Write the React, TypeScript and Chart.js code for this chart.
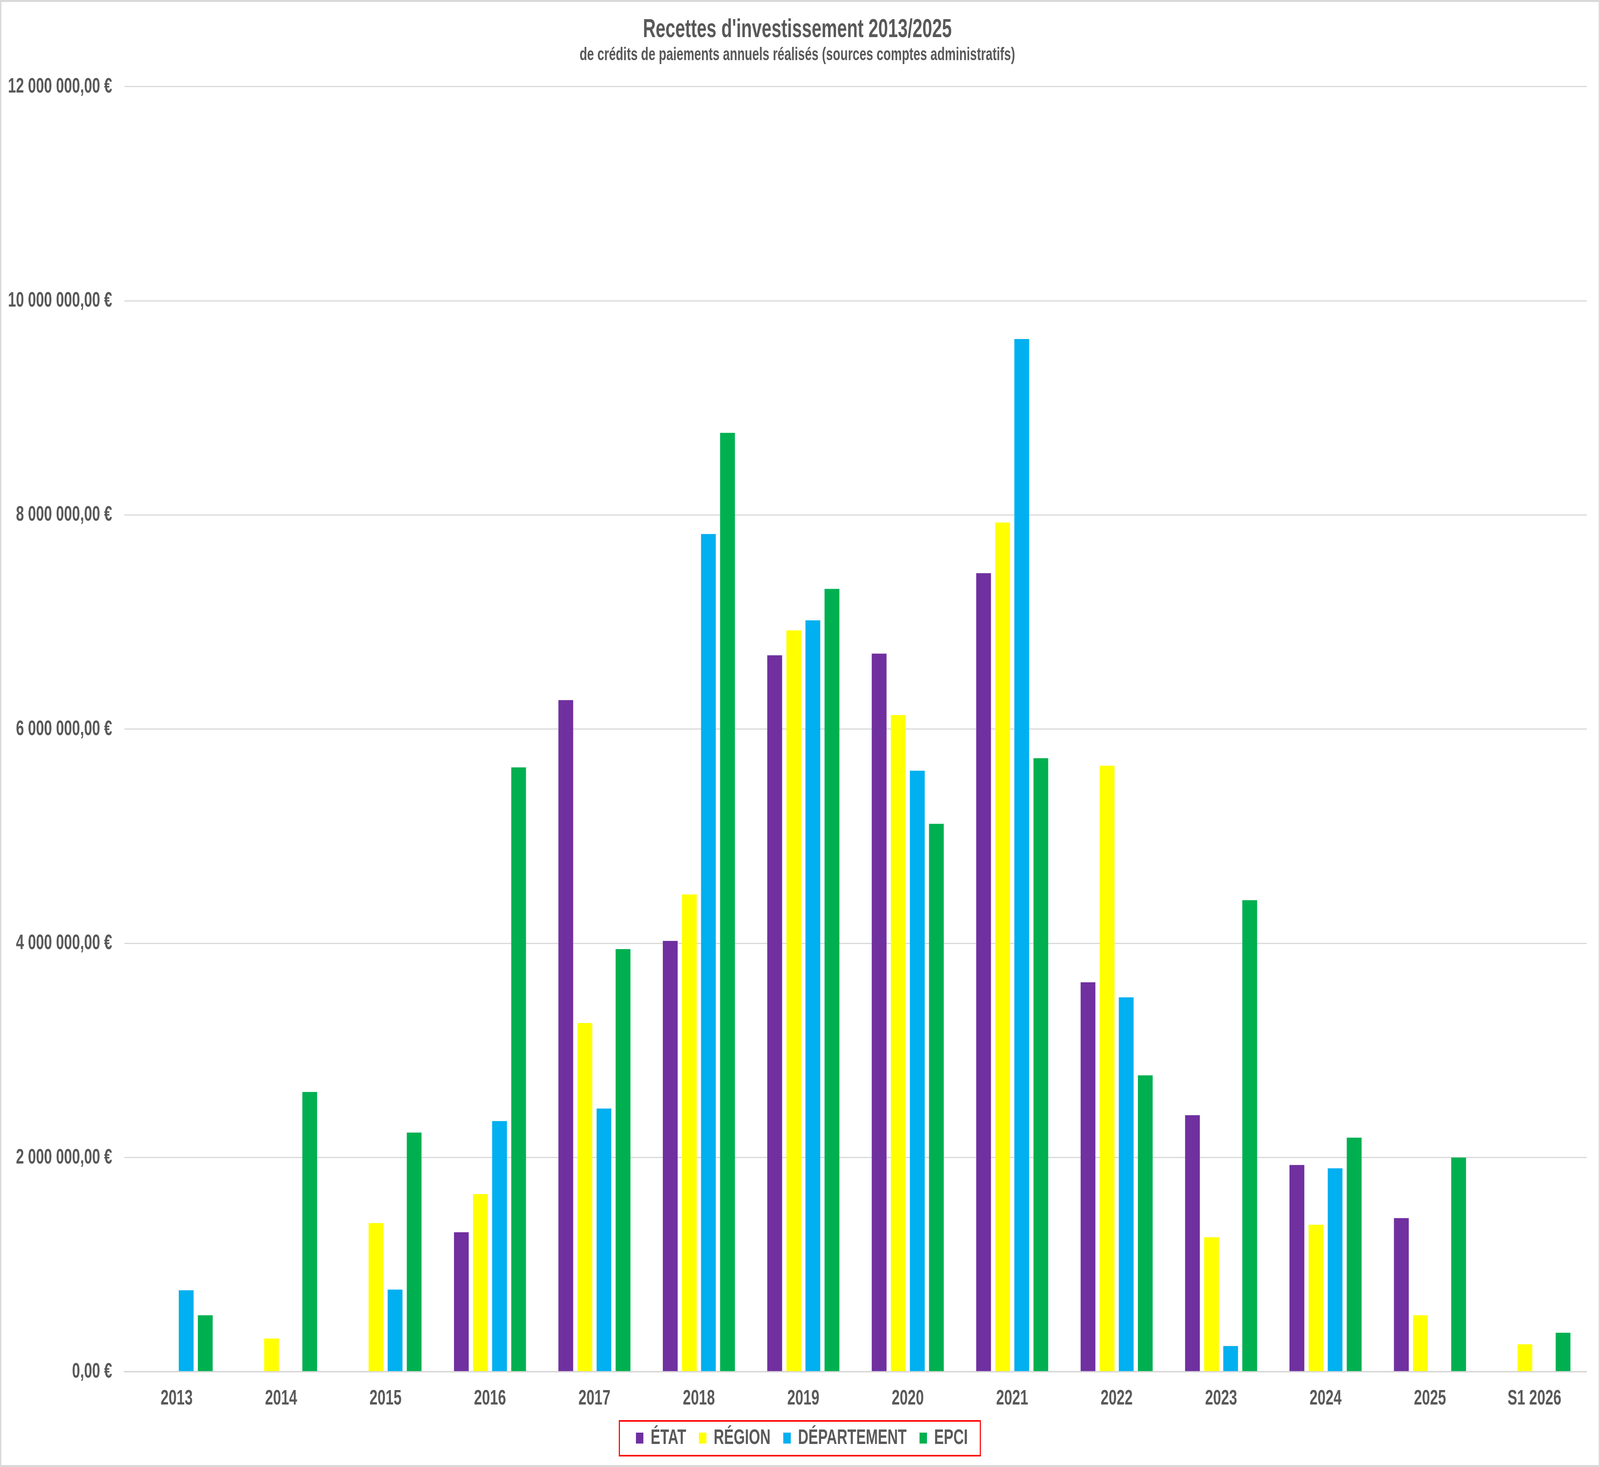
import React, { useEffect, useRef } from "react";
import { Chart, registerables } from "chart.js";

Chart.register(...registerables);

const categories = [
  "2013", "2014", "2015", "2016", "2017", "2018", "2019",
  "2020", "2021", "2022", "2023", "2024", "2025", "S1 2026",
];

const etat = [0, 0, 0, 1302000, 6271000, 4023000, 6690000, 6705000, 7457000, 3636000, 2395000, 1930000, 1434000, 0];
const region = [0, 310000, 1388000, 1659000, 3256000, 4457000, 6922000, 6132000, 7930000, 5659000, 1256000, 1372000, 527000, 256000];
const departement = [760000, 0, 767000, 2341000, 2457000, 7822000, 7016000, 5612000, 9643000, 3496000, 240000, 1899000, 0, 0];
const epci = [527000, 2612000, 2233000, 5643000, 3946000, 8767000, 7310000, 5116000, 5729000, 2767000, 4403000, 2186000, 2000000, 364000];

const seriesNames = ["ÉTAT", "RÉGION", "DÉPARTEMENT", "EPCI"];
const seriesColors = ["#7030A0", "#FFFF00", "#00B0F0", "#00B050"];

const titleText = "Recettes d'investissement 2013/2025";
const subtitleText = "de crédits de paiements annuels réalisés (sources comptes administratifs)";

const yMin = 0;
const yMax = 12000000;
const yStep = 2000000;

const W = 5993;
const H = 3756;
const FONT = "'Liberation Sans', Arial, sans-serif";
const TEXT = "#595959";
const GRID = "#D9D9D9";

function formatEuro(v: number): string {
  const s = Math.round(v).toString();
  const groups: string[] = [];
  for (let i = s.length; i > 0; i -= 3) {
    groups.unshift(s.substring(Math.max(0, i - 3), i));
  }
  return groups.join(" ") + ",00 €";
}

const frame = {
  id: "frame",
  beforeDraw(chart: any) {
    const ctx = chart.ctx;
    ctx.save();
    ctx.fillStyle = "#FFFFFF";
    ctx.fillRect(0, 0, chart.width, chart.height);
    ctx.strokeStyle = GRID;
    ctx.lineWidth = 5;
    ctx.strokeRect(2.5, 2.5, chart.width - 5, chart.height - 5);
    ctx.restore();
  },
};

const legendShift = {
  id: "legendShift",
  afterLayout(chart: any) {
    if (chart.legend) chart.legend.left += 34;
  },
};

const legendBorder = {
  id: "legendBorder",
  afterDraw(chart: any) {
    const lg = chart.legend;
    if (!lg || !lg.legendHitBoxes || !lg.legendHitBoxes.length) return;
    const hb = lg.legendHitBoxes;
    const first = hb[0];
    const last = hb[hb.length - 1];
    const left = first.left - 62;
    const right = last.left + last.width + 47;
    const cy = first.top + first.height / 2;
    const ctx = chart.ctx;
    ctx.save();
    ctx.strokeStyle = "#FF0000";
    ctx.lineWidth = 4;
    ctx.strokeRect(left, cy - 44, right - left, 89);
    ctx.restore();
  },
};

export default function App() {
  const canvasRef = useRef<HTMLCanvasElement | null>(null);

  useEffect(() => {
    const canvas = canvasRef.current;
    if (!canvas) return;
    const values = [etat, region, departement, epci];
    const chart = new Chart(canvas, {
      type: "bar",
      data: {
        labels: categories,
        datasets: values.map((d, i) => ({
          label: seriesNames[i],
          data: d,
          backgroundColor: seriesColors[i],
          borderWidth: 0,
          categoryPercentage: 0.731,
          barPercentage: 0.775,
        })),
      },
      options: {
        responsive: false,
        animation: false,
        devicePixelRatio: 1,
        layout: { padding: { top: 20, left: 30, right: 50, bottom: 37 } },
        plugins: {
          title: {
            display: true,
            text: titleText,
            color: TEXT,
            font: { family: FONT, size: 66, weight: "bold", lineHeight: 1.2 },
            padding: { top: 17, bottom: 0 },
          },
          subtitle: {
            display: true,
            text: subtitleText,
            color: TEXT,
            font: { family: FONT, size: 46, weight: "bold", lineHeight: 1.1 },
            padding: { top: 0, bottom: 55 },
          },
          legend: {
            display: true,
            position: "bottom",
            labels: {
              color: TEXT,
              font: { family: FONT, size: 54, weight: "bold" },
              boxWidth: 28,
              boxHeight: 28,
              padding: 48,
            },
          },
          tooltip: { enabled: false },
        },
        scales: {
          x: {
            grid: { display: false, drawTicks: false },
            border: { display: true, color: GRID, width: 4 },
            ticks: {
              color: TEXT,
              font: { family: FONT, size: 54, weight: "bold", lineHeight: 1.2 },
              padding: 37,
              maxRotation: 0,
              autoSkip: false,
            },
            afterFit: (s: any) => {
              s.height = 95;
            },
          },
          y: {
            min: yMin,
            max: yMax,
            grid: { color: GRID, lineWidth: 3, drawTicks: false },
            border: { display: false },
            ticks: {
              stepSize: yStep,
              color: TEXT,
              font: { family: FONT, size: 54, weight: "bold", lineHeight: 1.2 },
              padding: 46,
              callback: (v: any) => formatEuro(Number(v)),
            },
            afterFit: (s: any) => {
              s.width = 436;
            },
          },
        },
      },
      plugins: [frame, legendShift, legendBorder],
    });
    return () => chart.destroy();
  }, []);

  return (
    <div style={{ position: "fixed", left: 0, top: 0, width: "100vw", height: "100vh", overflow: "hidden", background: "#fff" }}>
      <canvas ref={canvasRef} width={W} height={H} style={{ width: "100%", height: "100%", display: "block" }} />
    </div>
  );
}
